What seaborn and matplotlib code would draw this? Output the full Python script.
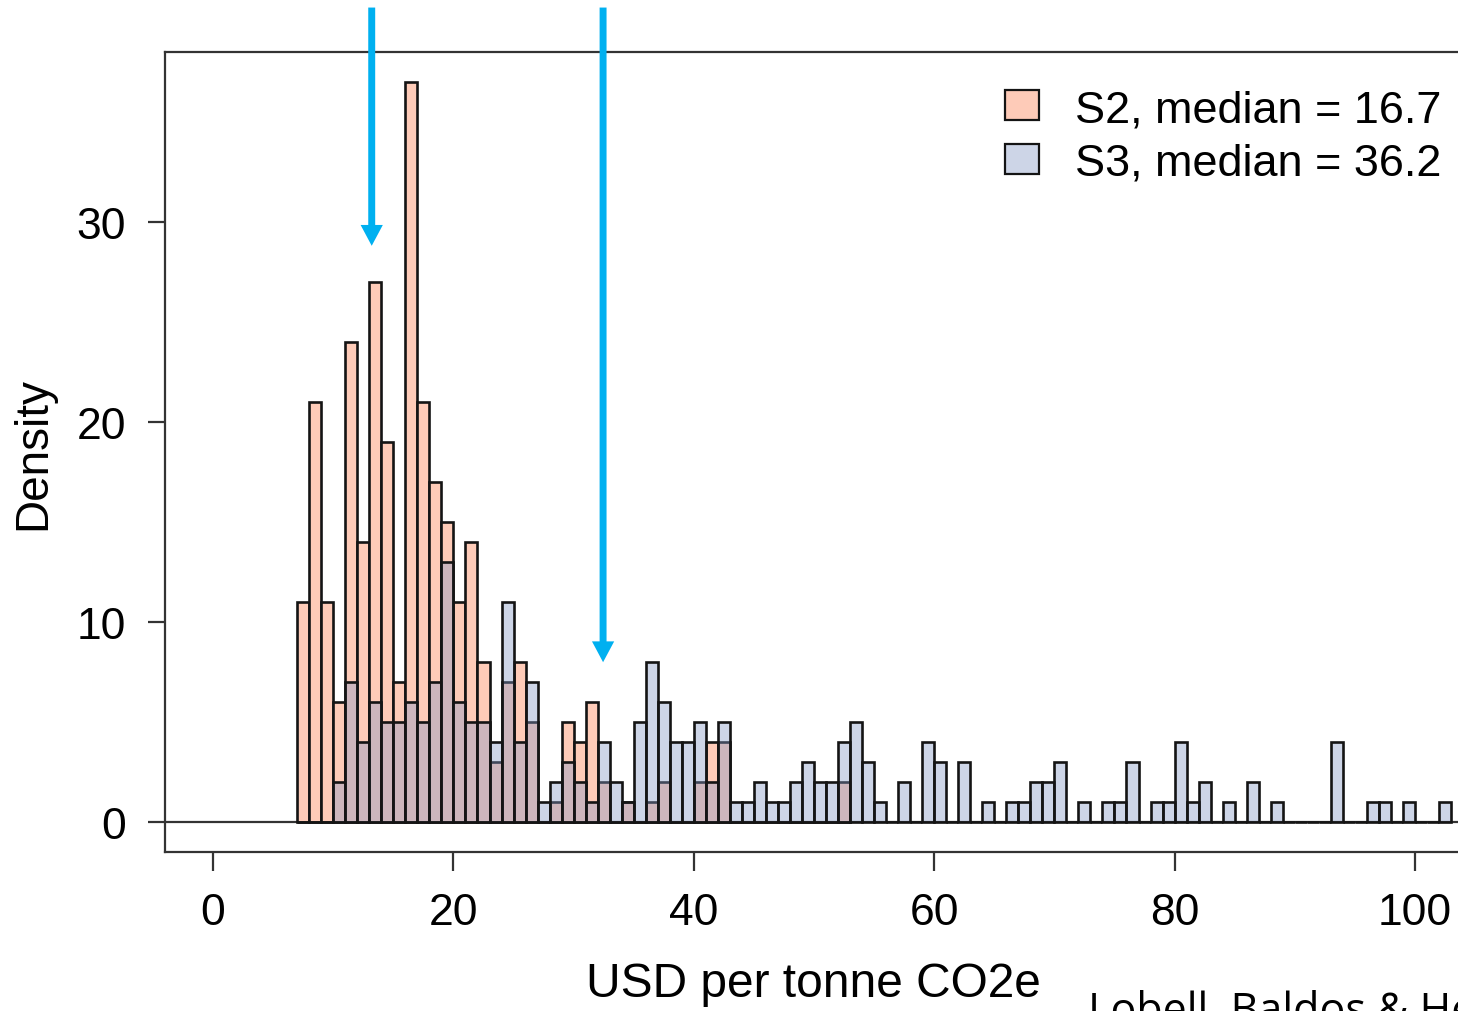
import numpy as np
import pandas as pd
import matplotlib
matplotlib.use("Agg")
import matplotlib.pyplot as plt
import seaborn as sns
from matplotlib.patches import Patch

# ---- data (bin width 1, value = bar height) ----
s2_bins = list(range(7, 53))
s2_values = [11, 21, 11, 6, 24, 14, 27, 19, 7, 37,
             21, 17, 15, 11, 14, 8, 3, 7, 8, 5,
             0, 1, 5, 4, 6, 2, 0, 1, 0, 1,
             2, 0, 0, 2, 4, 4, 0, 0, 0, 0,
             0, 0, 0, 0, 0, 2]
s3_bins = list(range(7, 103))
s3_values = [0, 0, 0, 2, 7, 4, 6, 5, 5, 6,
             5, 7, 13, 6, 5, 5, 4, 11, 4, 7,
             1, 2, 3, 2, 1, 4, 2, 1, 5, 8,
             6, 4, 4, 5, 2, 5, 1, 1, 2, 1,
             1, 2, 3, 2, 2, 4, 5, 3, 1, 0,
             2, 0, 4, 3, 0, 3, 0, 1, 0, 1,
             1, 2, 2, 3, 0, 1, 0, 1, 1, 3,
             0, 1, 1, 4, 1, 2, 0, 1, 0, 2,
             0, 1, 0, 0, 0, 0, 4, 0, 0, 1,
             1, 0, 1, 0, 0, 1]
legend_labels = ["S2, median = 16.7", "S3, median = 36.2"]
x_ticks = [0, 20, 40, 60, 80, 100]
y_ticks = [0, 10, 20, 30]
arrow_x = [13.2, 32.45]
arrow_tip_y = [28.8, 8.0]

df2 = pd.DataFrame({"x": np.array(s2_bins) + 0.5, "w": s2_values})
df3 = pd.DataFrame({"x": np.array(s3_bins) + 0.5, "w": s3_values})

sns.set_style("white")
plt.rcParams["font.family"] = ["Liberation Sans", "DejaVu Sans"]
plt.rcParams["text.color"] = "black"
plt.rcParams["axes.labelcolor"] = "black"

W, H = 1458, 1012
fig = plt.figure(figsize=(W / 100, H / 100), dpi=100)
ax = fig.add_axes([165 / W, 1 - 853 / H, 1298 / W, 800 / H])

c_s2 = "#fecbb8"
c_s3 = "#8498c5"
edge = "#141414"

sns.histplot(data=df2, x="x", weights="w", binwidth=1, binrange=(7, 53),
             color=c_s2, alpha=1.0, edgecolor=edge, linewidth=1.9, ax=ax)
sns.histplot(data=df3, x="x", weights="w", binwidth=1, binrange=(7, 103),
             color=c_s3, alpha=0.4, edgecolor=edge, linewidth=1.9, ax=ax)

ax.axhline(0, color="#333333", lw=1.6, zorder=0.5)

ax.set_xlim(-4, 104)
ax.set_ylim(-1.48, 38.48)
ax.set_xticks(x_ticks)
ax.set_yticks(y_ticks)
ax.tick_params(axis="x", direction="out", length=13.7, width=1.6, pad=15,
               labelsize=32, colors="#333333", labelcolor="black", bottom=True)
ax.tick_params(axis="y", direction="out", length=12.2, width=1.6, pad=16,
               labelsize=32, colors="#333333", labelcolor="black", left=True)
for s in ax.spines.values():
    s.set_visible(True)
    s.set_color("#333333")
    s.set_linewidth(1.6)

ax.set_xlabel("USD per tonne CO2e", fontsize=34.5, color="black")
ax.xaxis.set_label_coords((813 - 165) / 1298, (853 - 997) / 800)
ax.xaxis.label.set_va("baseline")
ax.set_ylabel("Density", fontsize=33, color="black")
ax.yaxis.set_label_coords((33 - 165) / 1298, 0.5)
ax.yaxis.label.set_va("center")

handles = [Patch(facecolor=c_s2, edgecolor=edge, lw=1.6),
           Patch(facecolor=matplotlib.colors.to_rgba(c_s3, 0.4), edgecolor=edge, lw=1.6)]
leg = ax.legend(handles=handles, labels=legend_labels, loc="upper left",
                bbox_to_anchor=(1005 / W, 1 - 90 / H), bbox_transform=fig.transFigure,
                frameon=False, fontsize=32.4, handlelength=0.75, handleheight=0.65,
                handletextpad=0.8, labelspacing=0.28, borderpad=0, borderaxespad=0)
for t in leg.get_texts():
    t.set_color("black")

for xa, ty in zip(arrow_x, arrow_tip_y):
    ax.annotate("", xy=(xa, ty), xytext=(xa, 40.7),
                arrowprops=dict(width=5, headwidth=16, headlength=15, shrink=0,
                                color="#00b0f0", lw=0),
                annotation_clip=False)

fig.text(1088 / W, 1 - 991 / H, "Lobell, Baldos & Hertel", fontsize=31,
         family=["Open Sans", "DejaVu Sans"], va="top", ha="left", color="black")

fig.savefig("out.png", dpi=100)
